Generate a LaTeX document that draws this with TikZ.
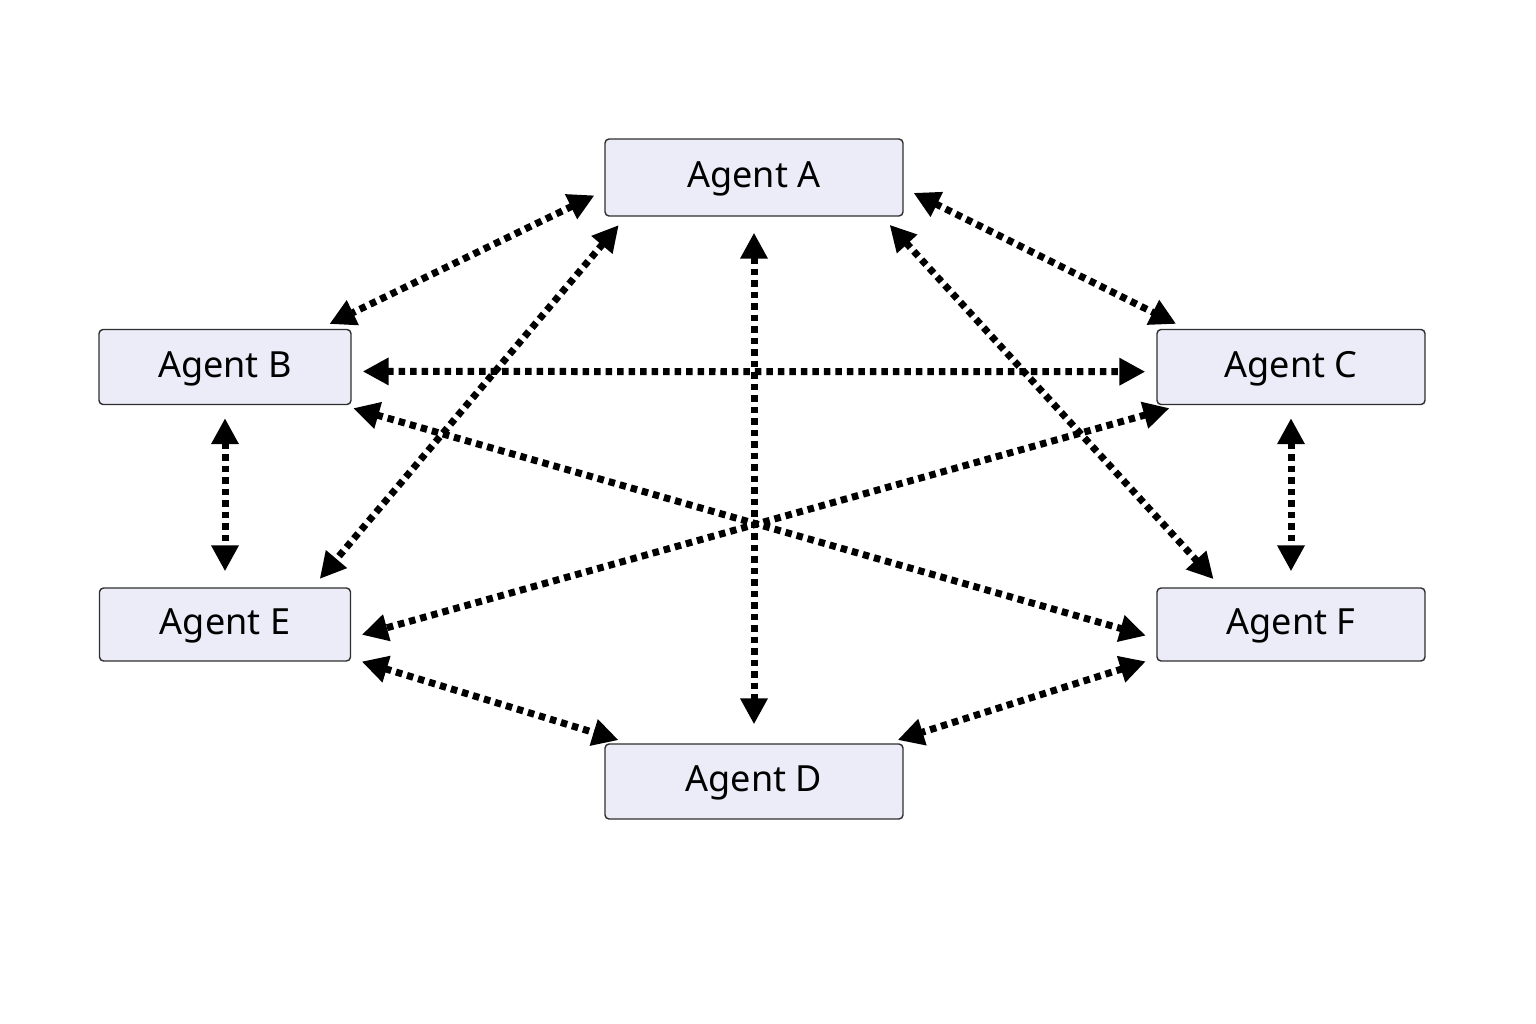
\documentclass[tikz,border=0pt]{standalone}
\usepackage{fontspec}
\setmainfont{Noto Sans}
\usepackage{xcolor}
\usetikzlibrary{arrows.meta, positioning}
\definecolor{boxfill}{HTML}{ECECF8}
\definecolor{boxline}{HTML}{2E2E2E}

\begin{document}
\begin{tikzpicture}[x=0.02cm,y=-0.02cm]
 \tikzstyle{agentbox}=[rectangle,rounded corners=0.08cm,draw=boxline,line width=0.8pt,
   fill=boxfill,minimum height=1.5cm,text centered,text depth=0.1cm,
   font=\fontsize{20.5}{24}\selectfont]
 \tikzstyle{talk}=[line width=0.14cm,dash pattern=on 0.13cm off 0.1cm,
   {Triangle[length=0.52cm,width=0.52cm]}-{Triangle[length=0.52cm,width=0.52cm]},
   shorten <=0.22cm,shorten >=0.22cm]
 \useasboundingbox (0,0) rectangle (1536,1024);
 \node (agentA) [agentbox,minimum width=5.96cm,minimum height=1.54cm] at (754,177.5) {Agent A};
 \node (agentB) [agentbox,minimum width=5.04cm] at (225,367) {Agent B};
 \node (agentC) [agentbox,minimum width=5.36cm] at (1291,367) {Agent C};
 \node (agentE) [agentbox,minimum width=5.02cm,minimum height=1.46cm] at (225,624.5) {Agent E};
 \node (agentF) [agentbox,minimum width=5.36cm,minimum height=1.46cm] at (1291,624.5) {Agent F};
 \node (agentD) [agentbox,minimum width=5.96cm] at (754,781.5) {Agent D};
 % links from A
 \draw[talk] (agentA.185) -- (agentB.22);
 \draw[talk] (agentA.-4) -- (agentC.160);
 \draw[talk] (agentA.197) -- (agentE.23);
 \draw[talk,shorten <=0.32cm,shorten >=0.38cm] (agentA.south) -- (agentD.north);
 \draw[talk] (agentA.-17) -- (agentF.152);
 % the cross links
 \draw[talk] (agentB.-2) -- (agentC.182);
 \draw[talk,shorten <=0.26cm,shorten >=0.32cm] (agentB.south) -- (agentE.north);
 \draw[talk] (agentB.-18) -- (agentF.186);
 \draw[talk] (agentC.199) -- (agentE.-6);
 \draw[talk,shorten <=0.26cm,shorten >=0.32cm] (agentC.south) -- (agentF.north);
 % links to D
 \draw[talk] (agentE.-15) -- (agentD.163);
 \draw[talk] (agentF.194) -- (agentD.16);
\end{tikzpicture}
\end{document}
